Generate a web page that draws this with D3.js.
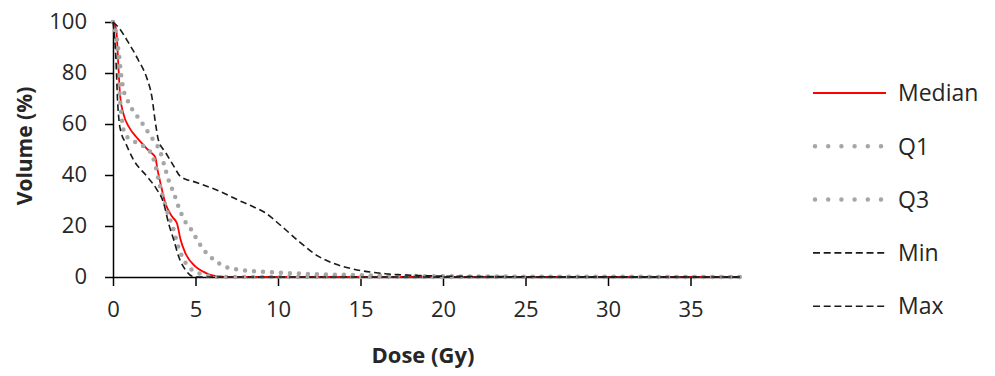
<!DOCTYPE html>
<html>
<head>
<meta charset="utf-8">
<script src="https://cdn.jsdelivr.net/npm/d3@7"></script>
<style>
  html, body { margin: 0; padding: 0; background: #fff; }
  svg { display: block; }
  text { font-family: "Open Sans", "Noto Sans", sans-serif; fill: #262626; }
</style>
</head>
<body>
<svg id="chart" width="995" height="376"></svg>
<script>
// Cumulative dose-volume histogram: dose (Gy) vs volume (%)
const seriesNames = ["Median", "Q1", "Q3", "Min", "Max"];

const medianDose = [0, 0.2, 0.3, 0.43, 0.63, 1.0, 1.4, 1.75, 2.1, 2.36, 2.56, 2.7, 2.87, 3.17, 3.58, 3.88, 4.08, 4.39, 5.0, 5.5, 5.9, 6.5, 7, 38];
const medianVol  = [100, 97, 86, 71, 64, 58.5, 55, 52.5, 50, 48.5, 47, 42, 37, 29, 23.7, 21, 15, 9.3, 4.1, 2, 0.8, 0.2, 0, 0];

const q1Dose = [0, 0.2, 0.3, 0.4, 0.5, 0.73, 1.2, 1.65, 2.26, 2.56, 2.8, 3.07, 3.37, 3.68, 3.88, 4.19, 4.59, 5.2, 5.8, 6.5, 38];
const q1Vol  = [100, 93, 83, 72, 64, 56, 53.5, 52, 49, 44, 37, 30.5, 24, 18.5, 13.5, 8, 4, 1.5, 0.4, 0, 0];

const q3Dose = [0, 0.2, 0.35, 0.5, 0.65, 0.83, 1.14, 1.65, 2.05, 2.46, 2.87, 3.1, 3.37, 3.68, 4.0, 4.35, 4.7, 5.1, 5.5, 6.0, 6.7, 7.5, 8.35, 10, 11, 13, 15, 18, 22, 27, 32, 38];
const q3Vol  = [100, 95, 88, 79, 73, 70, 66, 61.5, 57.5, 53.5, 49, 44, 38, 33, 27, 22, 19, 14.6, 10.6, 7.4, 4.3, 3, 2.4, 1.7, 1.4, 1, 0.7, 0.4, 0.2, 0.1, 0.05, 0];

const minDose = [0, 0.12, 0.2, 0.27, 0.37, 0.5, 0.73, 1.24, 2.05, 2.66, 3.07, 3.37, 3.68, 3.98, 4.39, 4.8, 5.3, 38];
const minVol  = [100, 92, 82, 70, 61, 56.5, 53, 46, 39.5, 34.3, 29, 21, 14.6, 8, 2.8, 0.3, 0, 0];

const maxDose = [0, 0.32, 0.93, 1.54, 2.05, 2.36, 2.56, 2.76, 3.17, 3.68, 4.08, 5.1, 6.5, 7.64, 8.35, 9.2, 10.2, 11.3, 12.4, 13.3, 14.5, 16.5, 18.5, 21, 25, 30, 38];
const maxVol  = [100, 98, 92, 85, 78, 70.5, 61, 53.5, 49, 43.5, 39.5, 37, 33.5, 30, 28, 25.3, 20, 13.8, 8.3, 5.5, 3.2, 1.3, 0.6, 0.25, 0.1, 0.05, 0];

const xTicks = [0, 5, 10, 15, 20, 25, 30, 35];
const yTicks = [0, 20, 40, 60, 80, 100];
const xTitle = "Dose (Gy)";
const yTitle = "Volume (%)";

const svg = d3.select("#chart");
const x = d3.scaleLinear().domain([0, 38]).range([113, 740]);
const y = d3.scaleLinear().domain([0, 100]).range([277, 22]);

const styles = {
  Median: { stroke: "#ff0000", width: 1.8, dash: null, cap: "butt", legendDash: null },
  Q1:     { stroke: "#a6a6a6", width: 4.5, dash: "0 9", cap: "round", legendDash: "0 13.2" },
  Q3:     { stroke: "#a6a6a6", width: 4.5, dash: "0 9", cap: "round", legendDash: "0 13.2" },
  Min:    { stroke: "#1a1a1a", width: 1.6, dash: "6.5 3.8", cap: "butt", legendDash: "7 3.7" },
  Max:    { stroke: "#1a1a1a", width: 1.6, dash: "6.5 3.8", cap: "butt", legendDash: "7 3.7" }
};

const series = [
  { name: "Median", dose: medianDose, vol: medianVol },
  { name: "Q1", dose: q1Dose, vol: q1Vol },
  { name: "Q3", dose: q3Dose, vol: q3Vol },
  { name: "Min", dose: minDose, vol: minVol },
  { name: "Max", dose: maxDose, vol: maxVol }
];

// Axes
const xAxis = d3.axisBottom(x).tickValues(xTicks).tickSize(9).tickPadding(12).tickSizeOuter(0);
const yAxis = d3.axisLeft(y).tickValues(yTicks).tickSize(8).tickPadding(18).tickSizeOuter(0);

const gx = svg.append("g").attr("transform", `translate(0,${y(0)})`).call(xAxis);
const gy = svg.append("g").attr("transform", `translate(${x(0)},0)`).call(yAxis);
[gx, gy].forEach(g => {
  g.select(".domain").attr("stroke", "#000").attr("stroke-width", 1.5);
  g.selectAll(".tick line").attr("stroke", "#000").attr("stroke-width", 1.5);
  g.selectAll(".tick text").attr("font-size", 22).attr("font-family", "\"Open Sans\", sans-serif").attr("fill", "#262626");
});
gy.selectAll(".tick text").attr("dy", "0.3em");
gx.selectAll(".tick text").attr("dy", "0.85em");

// Series lines, drawn in legend order so later series sit on top
const line = d3.line().x(d => x(d[0])).y(d => y(d[1])).curve(d3.curveMonotoneX);
series.forEach(s => {
  const st = styles[s.name];
  svg.append("path")
    .datum(s.dose.map((d, i) => [d, s.vol[i]]))
    .attr("d", line)
    .attr("fill", "none")
    .attr("stroke", st.stroke)
    .attr("stroke-width", st.width)
    .attr("stroke-linecap", st.cap)
    .attr("stroke-dasharray", st.dash);
});

// Axis titles
svg.append("text")
  .attr("x", 423).attr("y", 363)
  .attr("text-anchor", "middle")
  .attr("font-size", 22).attr("font-weight", "bold")
  .text(xTitle);
svg.append("text")
  .attr("transform", "translate(32,146) rotate(-90)")
  .attr("text-anchor", "middle")
  .attr("font-size", 21).attr("font-weight", "bold")
  .text(yTitle);

// Legend
const legend = svg.append("g");
seriesNames.forEach((name, i) => {
  const st = styles[name];
  const ly = 93 + i * 53.3;
  legend.append("line")
    .attr("x1", st.cap === "round" ? 815 : 813).attr("x2", 886)
    .attr("y1", ly).attr("y2", ly)
    .attr("stroke", st.stroke)
    .attr("stroke-width", st.width)
    .attr("stroke-linecap", st.cap)
    .attr("stroke-dasharray", st.legendDash);
  legend.append("text")
    .attr("x", 898).attr("y", ly).attr("dy", "0.36em")
    .attr("font-size", 23)
    .text(name);
});
</script>
</body>
</html>
